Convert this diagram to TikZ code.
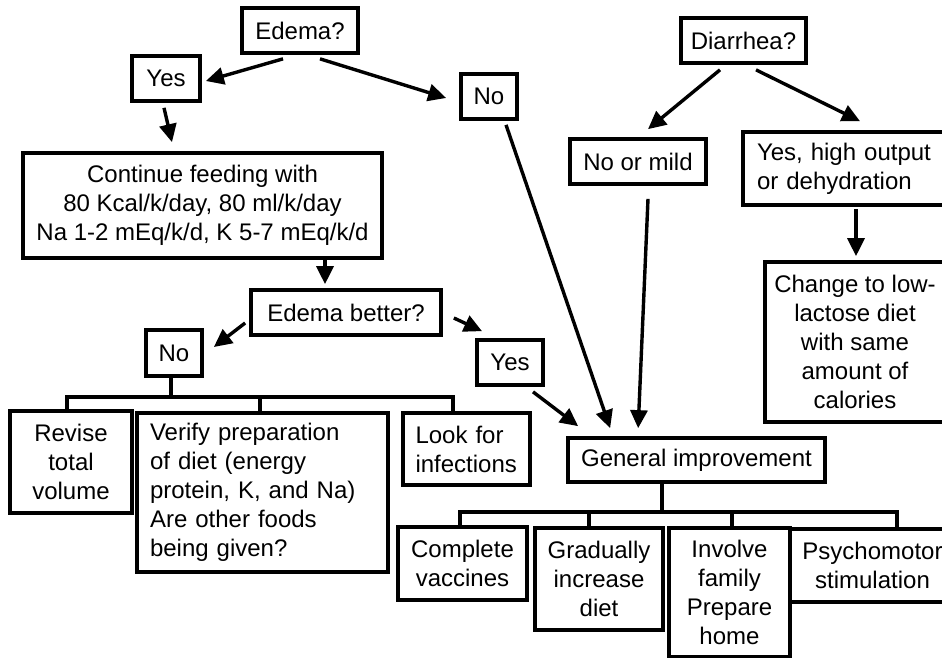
\documentclass[tikz,border=0pt]{standalone}
\usepackage{fontspec}
\setmainfont{Liberation Sans}
\usetikzlibrary{arrows.meta,calc}
\begin{document}
\begin{tikzpicture}[x=1pt,y=-1pt,
  txt/.style={font=\fontsize{24}{29}\selectfont},
  box/.style={draw,line width=3.7pt,inner sep=0pt,align=center,txt},
  lbox/.style={draw,line width=3.7pt,inner ysep=0pt,align=left,txt},
  arr/.style={line width=3.4pt,-{Triangle[length=18pt,width=17pt]}},
  bus/.style={line width=3.4pt}]
\useasboundingbox (0,0) rectangle (942,658);
\clip (0,0) rectangle (942,658);
\fill[white] (0,0) rectangle (942,658);

% left branch: edema
\node[box,minimum width=116pt,minimum height=45pt] (edema) at (300,30.5) {Edema?};
\node[box,minimum width=68pt,minimum height=45pt] (yes1) at (166,78.5) {Yes};
\node[box,minimum width=56pt,minimum height=45pt] (no1) at (489,96.5) {No};
\node[box,minimum width=359pt,minimum height=105pt] (feed) at (202.5,205.5)
  {Continue feeding with\\80 Kcal/k/day, 80 ml/k/day\\Na 1-2 mEq/k/d, K 5-7 mEq/k/d};
\node[box,minimum width=190pt,minimum height=45pt] (better) at (346,312.5) {Edema better?};
\node[box,minimum width=56pt,minimum height=46pt] (no2) at (174,353) {No};
\node[box,minimum width=66pt,minimum height=45pt] (yes2) at (510,362.5) {Yes};
\node[box,minimum width=122pt,minimum height=102pt] (revise) at (71,462) {Revise\\total\\volume};
\node[lbox,text width=225pt,inner xsep=13pt,minimum height=159pt] (verify) at (262.5,492.5)
  {Verify preparation\\of diet (energy\\protein, K, and Na)\\Are other foods\\being given?};
\node[lbox,text width=102pt,inner xsep=12.5pt,minimum height=72pt] (look) at (466.5,449)
  {Look for\\infections};

% general improvement and its actions
\node[box,minimum width=257pt,minimum height=44pt] (gi) at (696.5,460) {General improvement};
\node[box,minimum width=129pt,minimum height=73pt] (vacc) at (462.5,563.5) {Complete\\vaccines};
\node[box,minimum width=128pt,minimum height=102pt] (grad) at (599,579) {Gradually\\increase\\diet};
\node[box,minimum width=121pt,minimum height=129pt] (inv) at (729.5,592.5) {Involve\\family\\Prepare\\home};
\node[box,minimum width=165pt,minimum height=73pt] (psy) at (872.5,565.5) {Psychomotor\\stimulation};

% right branch: diarrhea
\node[box,minimum width=125pt,minimum height=45pt] (diarrhea) at (743.5,40.5) {Diarrhea?};
\node[box,minimum width=136pt,minimum height=45pt] (mild) at (638,161.5) {No or mild};
\node[lbox,text width=180pt,inner xsep=14pt,minimum height=73pt] (high) at (847,168.5)
  {Yes, high output\\or dehydration};
\node[box,minimum width=180pt,minimum height=160pt] (change) at (855,342)
  {Change to low-\\lactose diet\\with same\\amount of\\calories};

% arrows
\draw[arr] ($(edema.south)+(-17,4)$) -- ($(yes1.east)+(4,2.5)$);
\draw[arr] ($(edema.south)+(20,4)$) -- ($(no1.west)+(-13,1.5)$);
\draw[arr] ($(yes1.south)+(-2,5)$) -- ($(feed.north)+(-30.5,-9)$);
\draw[arr] ($(better.north)+(-21,-29)$) -- ($(better.north)+(-21,-4)$);
\draw[arr] ($(better.west)+(-4,10.5)$) -- ($(no2.east)+(10,-6)$);
\draw[arr] ($(better.east)+(11,5.5)$) -- ($(yes2.north)+(-28,-7)$);
\draw[arr] ($(yes2.south)+(23,5)$) -- ($(gi.north west)+(12,-10)$);
\draw[arr] ($(no1.south)+(17,4)$) -- ($(gi.north west)+(44,-8)$);
\draw[arr] ($(mild.south)+(10,13)$) -- ($(gi.north west)+(72,-8)$);
\draw[arr] ($(diarrhea.south)+(-23.5,5)$) -- ($(mild.north)+(10,-8)$);
\draw[arr] ($(diarrhea.south)+(12.5,5)$) -- ($(high.north)+(13,-9)$);
\draw[arr] ($(high.south)+(9,2)$) -- ($(change.north)+(1,-4)$);

% bracket under "No"
\coordinate (busA) at (0,397);
\draw[bus] (no2.south -| 171,0) -- (171,0 |- busA);
\draw[bus] (revise.north -| 67,0) -- (67,0 |- busA) -- (453,0 |- busA) -- (look.north -| 453,0);
\draw[bus] (verify.north -| 260,0) -- (260,0 |- busA);

% bracket under "General improvement"
\coordinate (busB) at (0,512);
\draw[bus] (gi.south -| 662,0) -- (662,0 |- busB);
\draw[bus] (vacc.north -| 460,0) -- (460,0 |- busB) -- (897,0 |- busB) -- (psy.north -| 897,0);
\draw[bus] (grad.north -| 589,0) -- (589,0 |- busB);
\draw[bus] (inv.north -| 732,0) -- (732,0 |- busB);
\end{tikzpicture}
\end{document}
